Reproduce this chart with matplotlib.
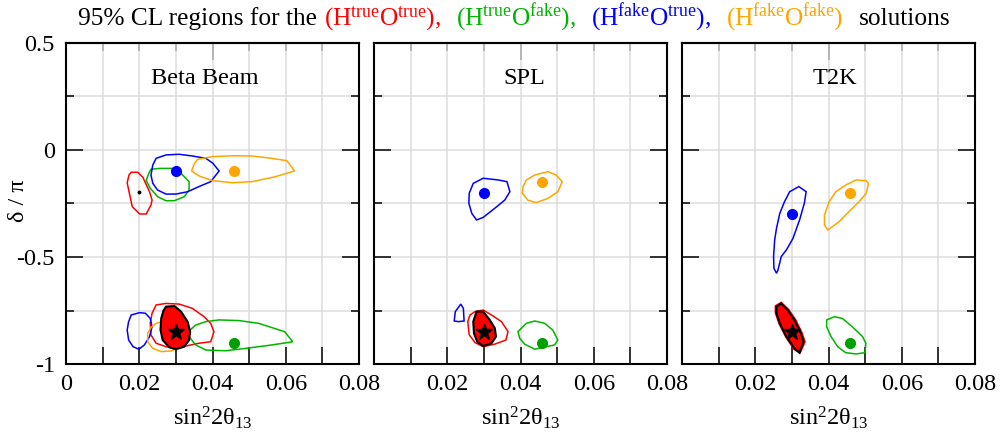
import numpy as np
import matplotlib
matplotlib.use('Agg')
import matplotlib.pyplot as plt
from matplotlib.ticker import MultipleLocator, FixedLocator

plt.rcParams['font.family'] = ['Liberation Serif', 'DejaVu Serif']
plt.rcParams['mathtext.fontset'] = 'custom'
plt.rcParams['mathtext.rm'] = 'Liberation Serif'
plt.rcParams['mathtext.it'] = 'Liberation Serif:italic'
plt.rcParams['axes.unicode_minus'] = False
plt.rcParams['font.size'] = 17.5

RED = '#ff0000'
GREEN = '#00b400'
GREEN_DOT = '#00a000'
BLUE = '#0000ff'
ORANGE = '#ffa500'

# ---- data (sin^2 2theta13, delta/pi) ----
experiments = ['Beta Beam', 'SPL', 'T2K']
xticks = [0, 0.02, 0.04, 0.06, 0.08]
yticks = [-1, -0.5, 0, 0.5]
yticklabels = ['-1', '-0.5', '0', '0.5']
true_point = (0.03, -0.85)

# Beta Beam
bb_red_up = [(0.0178, -0.104), (0.0196, -0.104), (0.0210, -0.128), (0.0228, -0.195), (0.0235, -0.234),
             (0.0232, -0.257), (0.0219, -0.299), (0.0201, -0.299), (0.0181, -0.265), (0.0174, -0.210),
             (0.0167, -0.153), (0.0172, -0.117)]
bb_green_up = [(0.0232, -0.090), (0.0255, -0.086), (0.0291, -0.086), (0.0314, -0.109), (0.0336, -0.148),
               (0.0336, -0.187), (0.0323, -0.218), (0.0296, -0.237), (0.0273, -0.237), (0.0250, -0.218),
               (0.0230, -0.179), (0.0219, -0.143), (0.0226, -0.109)]
bb_blue_up = [(0.0246, -0.039), (0.0273, -0.023), (0.0309, -0.020), (0.0345, -0.028), (0.0382, -0.039),
              (0.0401, -0.062), (0.0418, -0.098), (0.0395, -0.148), (0.0363, -0.171), (0.0332, -0.195),
              (0.0300, -0.206), (0.0273, -0.206), (0.0250, -0.187), (0.0237, -0.156), (0.0232, -0.117),
              (0.0237, -0.070)]
bb_orange_up = [(0.0359, -0.044), (0.0400, -0.031), (0.0454, -0.027), (0.0508, -0.028), (0.0562, -0.039),
                (0.0603, -0.050), (0.0624, -0.098), (0.0571, -0.125), (0.0508, -0.148), (0.0454, -0.153),
                (0.0400, -0.143), (0.0363, -0.121), (0.0343, -0.098), (0.0350, -0.065)]
bb_red_low = [(0.0246, -0.724), (0.0273, -0.717), (0.0309, -0.720), (0.0345, -0.740), (0.0377, -0.779),
              (0.0395, -0.810), (0.0404, -0.849), (0.0395, -0.896), (0.0363, -0.903), (0.0327, -0.916),
              (0.0300, -0.927), (0.0273, -0.919), (0.0246, -0.903), (0.0232, -0.864), (0.0230, -0.810),
              (0.0235, -0.763)]
bb_blue_low = [(0.0178, -0.771), (0.0201, -0.760), (0.0217, -0.763), (0.0230, -0.787), (0.0235, -0.826),
               (0.0228, -0.872), (0.0214, -0.911), (0.0199, -0.931), (0.0183, -0.919), (0.0171, -0.888),
               (0.0167, -0.841), (0.0171, -0.802)]
bb_orange_low = [(0.0246, -0.810), (0.0273, -0.797), (0.0305, -0.802), (0.0327, -0.818), (0.0339, -0.849),
                 (0.0332, -0.888), (0.0314, -0.919), (0.0287, -0.939), (0.0260, -0.942), (0.0237, -0.927),
                 (0.0223, -0.896), (0.0223, -0.857), (0.0232, -0.829)]
bb_green_low = [(0.0339, -0.841), (0.0354, -0.818), (0.0382, -0.802), (0.0418, -0.794), (0.0472, -0.797),
                (0.0526, -0.810), (0.0597, -0.849), (0.0619, -0.896), (0.0562, -0.911), (0.0490, -0.927),
                (0.0436, -0.938), (0.0382, -0.935), (0.0354, -0.911), (0.0336, -0.872)]
bb_fill = [(0.0273, -0.732), (0.0296, -0.729), (0.0314, -0.755), (0.0332, -0.802), (0.0339, -0.849),
           (0.0336, -0.888), (0.0323, -0.919), (0.0300, -0.931), (0.0282, -0.922), (0.0264, -0.888),
           (0.0258, -0.841), (0.0260, -0.787), (0.0266, -0.751)]
bb_fits = {'blue': (0.03, -0.1), 'orange': (0.046, -0.1), 'green': (0.046, -0.9)}
bb_red_fit = (0.0198, -0.198)

# SPL
spl_blue_up = [(0.0271, -0.156), (0.0298, -0.132), (0.0339, -0.140), (0.0363, -0.148), (0.0371, -0.195),
               (0.0357, -0.234), (0.0330, -0.272), (0.0298, -0.315), (0.0280, -0.327), (0.0267, -0.296),
               (0.0259, -0.249), (0.0260, -0.202)]
spl_orange_up = [(0.0416, -0.140), (0.0439, -0.117), (0.0475, -0.101), (0.0497, -0.117), (0.0514, -0.148),
                 (0.0502, -0.195), (0.0475, -0.226), (0.0443, -0.246), (0.0420, -0.234), (0.0405, -0.202),
                 (0.0407, -0.171)]
spl_blue_low = [(0.0222, -0.755), (0.0237, -0.720), (0.0244, -0.740), (0.0246, -0.799), (0.0231, -0.802),
                (0.0219, -0.799)]
spl_red_low = [(0.0276, -0.755), (0.0298, -0.748), (0.0321, -0.771), (0.0348, -0.802), (0.0366, -0.849),
               (0.0360, -0.888), (0.0330, -0.907), (0.0298, -0.919), (0.0276, -0.900), (0.0260, -0.864),
               (0.0256, -0.802), (0.0262, -0.771)]
spl_green_low = [(0.0393, -0.849), (0.0416, -0.810), (0.0439, -0.799), (0.0466, -0.810), (0.0488, -0.841),
                 (0.0502, -0.888), (0.0493, -0.911), (0.0470, -0.919), (0.0439, -0.931), (0.0411, -0.907),
                 (0.0398, -0.880)]
spl_fill = [(0.0280, -0.755), (0.0298, -0.755), (0.0316, -0.794), (0.0330, -0.833), (0.0333, -0.872),
            (0.0321, -0.903), (0.0298, -0.916), (0.0282, -0.896), (0.0273, -0.857), (0.0271, -0.802)]
spl_fits = {'blue': (0.03, -0.2), 'orange': (0.046, -0.15), 'green': (0.046, -0.9)}

# T2K
t2k_blue_up = [(0.0294, -0.195), (0.0319, -0.171), (0.0339, -0.195), (0.0334, -0.249), (0.0321, -0.327),
               (0.0303, -0.413), (0.0285, -0.467), (0.0271, -0.498), (0.0262, -0.561), (0.0258, -0.576),
               (0.0251, -0.553), (0.0250, -0.498), (0.0253, -0.421), (0.0258, -0.366), (0.0267, -0.296),
               (0.0280, -0.241)]
t2k_orange_up = [(0.0420, -0.195), (0.0447, -0.164), (0.0475, -0.140), (0.0502, -0.143), (0.0509, -0.156),
                 (0.0503, -0.202), (0.0484, -0.241), (0.0456, -0.288), (0.0429, -0.335), (0.0398, -0.374),
                 (0.0389, -0.350), (0.0389, -0.304), (0.0402, -0.241)]
t2k_red_low = [(0.0255, -0.728), (0.0271, -0.712), (0.0291, -0.745), (0.0310, -0.792), (0.0328, -0.855),
               (0.0336, -0.897), (0.0322, -0.950), (0.0305, -0.930), (0.0283, -0.873), (0.0265, -0.812),
               (0.0255, -0.762)]
t2k_green_low = [(0.0395, -0.794), (0.0416, -0.779), (0.0438, -0.787), (0.0465, -0.826), (0.0493, -0.872),
                 (0.0502, -0.903), (0.0500, -0.947), (0.0475, -0.953), (0.0447, -0.947), (0.0425, -0.919),
                 (0.0407, -0.872), (0.0395, -0.826)]
t2k_fill = [(0.0258, -0.732), (0.0271, -0.717), (0.0289, -0.748), (0.0307, -0.794), (0.0325, -0.857),
            (0.0332, -0.896), (0.0321, -0.947), (0.0307, -0.927), (0.0285, -0.872), (0.0267, -0.810),
            (0.0258, -0.763)]
t2k_fits = {'blue': (0.03, -0.3), 'orange': (0.046, -0.2), 'green': (0.046, -0.9)}

panel_lines = [
    [(bb_red_up, RED), (bb_green_up, GREEN), (bb_blue_up, BLUE), (bb_orange_up, ORANGE),
     (bb_red_low, RED), (bb_blue_low, BLUE), (bb_orange_low, ORANGE), (bb_green_low, GREEN)],
    [(spl_blue_up, BLUE), (spl_orange_up, ORANGE), (spl_blue_low, BLUE), (spl_red_low, RED),
     (spl_green_low, GREEN)],
    [(t2k_blue_up, BLUE), (t2k_orange_up, ORANGE), (t2k_red_low, RED), (t2k_green_low, GREEN)],
]
panel_fill = [bb_fill, spl_fill, t2k_fill]
panel_fits = [bb_fits, spl_fits, t2k_fits]
label_x = [0.038, 0.041, 0.0417]
dot_colors = {'blue': BLUE, 'orange': ORANGE, 'green': GREEN_DOT}

W, H = 1001, 445
fig = plt.figure(figsize=(W / 100, H / 100), dpi=100)
lefts = [66, 374, 682]

for i, name in enumerate(experiments):
    ax = fig.add_axes([lefts[i] / W, 0.182, 293 / W, 0.7214])
    ax.set_xlim(0, 0.08)
    ax.set_ylim(-1, 0.5)

    ax.xaxis.set_major_locator(FixedLocator(xticks))
    ax.xaxis.set_minor_locator(MultipleLocator(0.01))
    ax.yaxis.set_major_locator(FixedLocator(yticks))
    ax.yaxis.set_minor_locator(MultipleLocator(0.25))
    ax.grid(which='both', color='#dcdcdc', lw=1.1, zorder=0)
    ax.set_axisbelow(True)
    ax.tick_params(which='both', direction='in', width=1.1, top=False, right=True, labelsize=17.5)
    ax.tick_params(axis='x', which='both', length=12, pad=7)
    ax.tick_params(axis='y', which='major', length=12, pad=8)
    ax.tick_params(axis='y', which='minor', length=6)
    if i == 0:
        ax.set_xticklabels(['0', '0.02', '0.04', '0.06', '0.08'])
        ax.set_yticklabels(yticklabels)
    else:
        ax.set_xticklabels(['', '0.02', '0.04', '0.06', '0.08'])
        ax.set_yticklabels([])

    top = ax.secondary_xaxis('top')
    top.xaxis.set_major_locator(FixedLocator([0, 0.04, 0.08]))
    top.xaxis.set_minor_locator(MultipleLocator(0.01))
    top.tick_params(which='major', direction='in', length=12, width=1.1, labeltop=False)
    top.tick_params(which='minor', direction='in', length=6, width=1.1)
    top.spines['top'].set_linewidth(1.5)

    for s in ax.spines.values():
        s.set_linewidth(1.5)

    for pts, c in panel_lines[i]:
        xs, ys = zip(*pts)
        ax.fill(xs, ys, fill=False, edgecolor=c, lw=1.1, zorder=2)
    fx, fy = zip(*panel_fill[i])
    ax.fill(fx, fy, facecolor=RED, edgecolor='black', lw=1.5, zorder=3)

    for key, (px, py) in panel_fits[i].items():
        ax.plot(px, py, 'o', color=dot_colors[key], ms=7, zorder=4)
    if i == 0:
        ax.plot(*bb_red_fit, 'o', color='black', ms=1.8, zorder=4)
    ax.plot(*true_point, '*', color='black', ms=12, zorder=5)

    ax.text(label_x[i], 0.308, name, ha='center', va='baseline', fontsize=17.5)
    ax.text(0.5, -0.19, r'sin$^2$2θ$_{13}$', transform=ax.transAxes,
            ha='center', va='baseline', fontsize=17.5)

fig.text(19 / W, 1 - 201 / H, 'δ / π', rotation=90, ha='center', va='center', fontsize=17.5)

# title assembled piece by piece with colours
pieces = [
    ('95% CL regions for the', 'black', 7),
    (r'(H$^{\rm true}$O$^{\rm true}$),', RED, 15),
    (r'(H$^{\rm true}$O$^{\rm fake}$),', GREEN, 15),
    (r'(H$^{\rm fake}$O$^{\rm true}$),', BLUE, 15),
    (r'(H$^{\rm fake}$O$^{\rm fake}$)', ORANGE, 15),
    ('solutions', 'black', 0),
]
fig.canvas.draw()
r = fig.canvas.get_renderer()
xpos = 78
for s, c, gap in pieces:
    t = fig.text(xpos / W, 1 - 25 / H, s, color=c, ha='left', va='baseline', fontsize=18.3)
    xpos = t.get_window_extent(r).x1 + gap

fig.savefig('out.png', dpi=100)
